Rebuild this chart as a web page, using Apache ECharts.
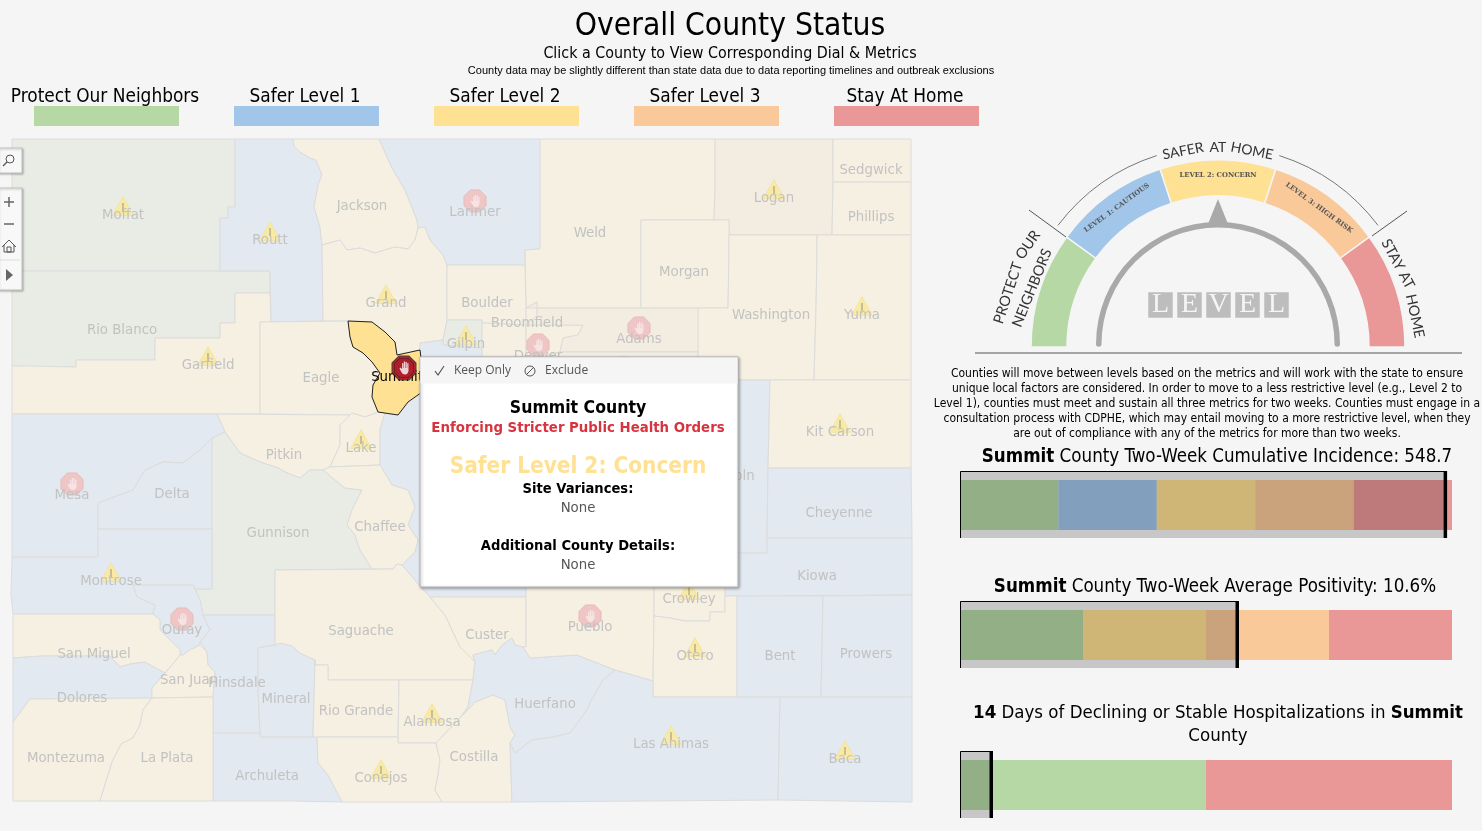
<!DOCTYPE html>
<html>
<head>
<meta charset="utf-8">
<title>Overall County Status</title>
<script src="https://cdn.jsdelivr.net/npm/echarts@6/dist/echarts.min.js"></script>
<style>
  html, body { margin: 0; padding: 0; background: #f5f5f5; }
  #chart { width: 1482px; height: 831px; }
</style>
</head>
<body>
<div id="chart"></div>
<script>
// 县界，取自参考图，单位是地图坐标
const countyShapes = {
  Moffat: [[12,139],[235,139],[235,207],[228,207],[228,218],[220,218],[220,271],[12,271]],
  'Rio Blanco': [[12,271],[270,271],[270,293],[235,293],[235,323],[220,323],[220,338],[155,338],[155,360],[76,360],[76,367],[32,367],[32,366],[12,366]],
  Garfield: [[12,366],[32,366],[32,367],[76,367],[76,360],[155,360],[155,338],[220,338],[220,323],[235,323],[235,293],[270,293],[271,322],[260,322],[260,414],[12,414]],
  Routt: [[235,139],[293,139],[294,146],[300,152],[310,158],[316,160],[322,175],[318,185],[314,207],[320,227],[322,245],[323,321],[271,322],[270,271],[220,271],[220,218],[228,218],[228,207],[235,207]],
  Jackson: [[293,139],[379,139],[392,168],[405,190],[417,220],[418,228],[415,240],[408,249],[395,247],[375,253],[360,248],[347,250],[340,240],[322,245],[320,227],[314,207],[318,185],[322,175],[316,160],[310,158],[300,152],[294,146]],
  Grand: [[322,245],[340,240],[347,250],[360,248],[375,253],[395,247],[408,249],[415,240],[418,228],[425,227],[430,240],[443,255],[447,265],[447,320],[443,340],[420,343],[420,350],[397,355],[395,342],[385,332],[372,322],[348,321],[323,321]],
  Larimer: [[379,139],[540,139],[540,249],[525,250],[525,265],[447,265],[443,255],[430,240],[425,227],[418,228],[417,220],[405,190],[392,168]],
  Weld: [[540,139],[715,139],[715,190],[714,220],[641,220],[641,308],[526,308],[525,250],[540,249]],
  Logan: [[715,139],[833,139],[833,182],[832,235],[729,235],[729,220],[714,220],[715,190]],
  Sedgwick: [[833,139],[911,139],[911,182],[833,182]],
  Phillips: [[833,182],[911,182],[911,235],[832,235]],
  Morgan: [[641,220],[729,220],[729,250],[728,308],[641,308]],
  Washington: [[729,235],[817,235],[817,250],[816,308],[814,380],[698,380],[698,308],[728,308],[729,250]],
  Yuma: [[817,235],[911,235],[911,380],[814,380],[816,308],[817,250]],
  Boulder: [[447,265],[525,265],[526,308],[526,325],[482,323],[482,320],[447,320]],
  Gilpin: [[447,320],[482,320],[482,348],[443,345],[443,340]],
  'Clear Creek': [[420,343],[443,340],[443,345],[482,348],[482,357],[420,357]],
  Jefferson: [[482,323],[526,325],[526,357],[482,357]],
  Broomfield: [[526,308],[537,302],[537,315],[530,322],[526,325]],
  Denver: [[526,325],[583,325],[578,335],[563,338],[560,352],[540,357],[526,357]],
  Adams: [[526,308],[698,308],[698,352],[560,352],[563,338],[578,335],[583,325],[526,325],[530,322],[537,315],[537,302]],
  Arapahoe: [[560,352],[698,352],[698,400],[526,400],[526,357],[540,357]],
  Elbert: [[526,400],[698,400],[698,587],[526,587]],
  Lincoln: [[698,380],[770,380],[768,468],[767,538],[767,553],[698,553]],
  'Kit Carson': [[770,380],[911,380],[911,468],[768,468]],
  Cheyenne: [[768,468],[911,468],[912,538],[767,538]],
  Kiowa: [[698,553],[767,553],[767,538],[912,538],[912,595],[725,596],[725,587],[698,587]],
  Eagle: [[260,322],[348,321],[350,337],[353,347],[363,353],[372,362],[380,373],[373,385],[372,397],[378,412],[365,417],[352,413],[350,415],[260,414]],
  Pitkin: [[217,414],[350,415],[340,425],[340,445],[330,467],[323,470],[310,470],[300,478],[285,472],[278,468],[260,462],[240,453],[225,432]],
  Lake: [[350,415],[352,413],[365,417],[378,412],[385,413],[380,430],[380,465],[330,467],[340,445],[340,425]],
  Park: [[385,413],[398,415],[408,402],[425,390],[420,357],[526,357],[526,597],[430,597],[420,586],[402,565],[415,552],[418,540],[408,525],[415,507],[408,490],[392,485],[380,465],[380,430]],
  Mesa: [[12,414],[217,414],[225,432],[212,438],[200,450],[183,463],[163,462],[145,470],[133,490],[98,503],[98,557],[12,557]],
  Delta: [[145,470],[163,462],[183,463],[200,450],[212,438],[212,529],[98,529],[98,503],[133,490]],
  Gunnison: [[225,432],[240,453],[260,462],[278,468],[285,472],[300,478],[310,470],[323,470],[335,480],[345,488],[362,490],[352,510],[347,525],[355,535],[360,550],[372,569],[275,570],[275,615],[203,615],[200,600],[195,589],[212,589],[212,438]],
  Chaffee: [[330,467],[380,465],[392,485],[408,490],[415,507],[408,525],[418,540],[415,552],[402,565],[397,564],[393,569],[372,569],[360,550],[355,535],[347,525],[352,510],[362,490],[345,488],[335,480],[323,470]],
  Montrose: [[12,557],[98,557],[98,529],[212,529],[212,589],[195,589],[193,585],[133,585],[137,597],[155,605],[153,614],[13,614],[11,595]],
  Ouray: [[133,585],[193,585],[195,589],[200,600],[203,615],[210,630],[200,642],[200,645],[190,650],[183,655],[180,655],[180,650],[170,640],[160,630],[160,620],[153,614],[155,605],[137,597]],
  'San Miguel': [[13,614],[153,614],[160,620],[160,630],[170,640],[180,650],[180,655],[172,665],[165,673],[150,665],[145,662],[130,664],[120,667],[110,656],[42,656],[13,658]],
  Dolores: [[13,658],[42,656],[110,656],[120,667],[130,664],[145,662],[150,665],[165,673],[152,688],[152,698],[30,699],[13,722]],
  'San Juan': [[165,673],[172,665],[180,655],[183,655],[190,650],[200,645],[207,652],[208,665],[215,672],[213,697],[152,698],[152,688]],
  Hinsdale: [[203,615],[275,615],[275,645],[258,648],[258,690],[260,733],[213,733],[213,697],[215,672],[208,665],[207,652],[200,642],[210,630]],
  Mineral: [[258,648],[275,645],[280,643],[292,646],[300,653],[315,660],[313,737],[260,737],[260,733],[258,690]],
  Archuleta: [[213,733],[260,733],[260,737],[317,737],[318,763],[328,775],[342,802],[292,801],[213,801]],
  Montezuma: [[13,722],[30,699],[152,698],[143,710],[140,725],[133,738],[121,744],[112,762],[108,775],[100,801],[13,801]],
  'La Plata': [[152,698],[213,697],[213,801],[100,801],[108,775],[112,762],[121,744],[133,738],[140,725],[143,710]],
  Saguache: [[275,570],[393,569],[397,564],[402,565],[420,586],[430,597],[445,615],[460,647],[475,662],[473,680],[328,680],[328,665],[315,665],[315,660],[300,653],[292,646],[280,643],[275,645]],
  'Rio Grande': [[315,660],[315,665],[328,665],[328,680],[399,680],[398,737],[313,737]],
  Alamosa: [[399,680],[473,680],[468,707],[460,718],[436,743],[398,743]],
  Conejos: [[317,737],[398,737],[398,743],[436,743],[440,760],[438,775],[435,790],[442,802],[342,802],[328,775],[318,763]],
  Costilla: [[436,743],[460,718],[475,702],[493,695],[505,700],[510,727],[515,735],[510,743],[512,802],[442,802],[435,790],[438,775],[440,760]],
  Custer: [[430,597],[526,597],[526,647],[523,647],[515,645],[512,638],[502,645],[495,655],[492,650],[473,655],[475,662],[460,647],[445,615]],
  Huerfano: [[473,655],[492,650],[495,655],[502,645],[512,638],[515,645],[523,647],[530,658],[577,655],[615,670],[603,680],[590,703],[587,710],[570,733],[553,737],[532,740],[515,753],[510,743],[515,735],[510,727],[505,700],[493,695],[475,702],[460,718],[468,707],[473,680],[475,662]],
  Pueblo: [[526,587],[654,587],[654,616],[653,681],[615,670],[577,655],[530,658],[523,647],[526,647]],
  Crowley: [[654,587],[725,587],[725,612],[710,612],[710,621],[685,621],[670,618],[654,616]],
  Otero: [[654,616],[670,618],[685,621],[710,621],[710,612],[725,612],[725,596],[737,596],[737,697],[653,697],[653,681]],
  Bent: [[737,596],[823,596],[821,697],[737,697]],
  Prowers: [[823,596],[912,595],[912,697],[821,697]],
  'Las Animas': [[615,670],[653,681],[653,697],[780,697],[779,750],[778,800],[512,802],[510,743],[515,753],[532,740],[553,737],[570,733],[587,710],[590,703],[603,680]],
  Baca: [[780,697],[912,697],[912,802],[778,800]],
  Summit: [[348,321],[372,322],[385,332],[395,342],[397,355],[420,350],[425,390],[408,402],[398,415],[378,412],[372,397],[373,385],[380,373],[372,362],[363,353],[353,347],[350,337]]
};

// 每个县的等级：0 Protect, 1 Level 1, 2 Level 2, 3 Level 3
const protectCounties = ['Moffat', 'Rio Blanco', 'Gilpin', 'Gunnison'];
const level1Counties = ['Routt', 'Larimer', 'Clear Creek', 'Park', 'Mesa', 'Delta', 'Montrose', 'Ouray', 'Dolores', 'Hinsdale', 'Mineral', 'Archuleta', 'Huerfano', 'Las Animas', 'Baca', 'Bent', 'Prowers', 'Kiowa', 'Cheyenne', 'Lincoln'];
const level3Counties = ['Logan', 'Adams', 'Arapahoe'];
const warningCounties = ['Moffat', 'Routt', 'Logan', 'Grand', 'Yuma', 'Garfield', 'Lake', 'Gilpin', 'Kit Carson', 'Montrose', 'Crowley', 'Otero', 'Alamosa', 'Conejos', 'Las Animas', 'Baca'];
const stopCounties = ['Larimer', 'Adams', 'Denver', 'Arapahoe', 'Mesa', 'Ouray', 'Pueblo'];

// 县名的位置
const labelAnchors = {
  Moffat: [123,214], Routt: [270,239], Jackson: [362,205], Larimer: [475,211], Weld: [590,232], Logan: [774,197],
  Sedgwick: [871,169], Phillips: [871,216], Morgan: [684,271], Grand: [386,302], Boulder: [487,302], Broomfield: [527,322],
  Gilpin: [466,343], Denver: [538,355], Adams: [639,338], Arapahoe: [623,378], Washington: [771,314], Yuma: [862,314],
  'Rio Blanco': [122,329], Garfield: [208,364], Eagle: [321,377], Pitkin: [284,454], Lake: [361,447], Mesa: [72,494],
  Delta: [172,493], Gunnison: [278,532], Chaffee: [380,526], 'Kit Carson': [840,431], Cheyenne: [839,512], Lincoln: [731,475],
  Kiowa: [817,575], Montrose: [111,580], Crowley: [689,598], Ouray: [182,629], 'San Miguel': [94,653], Saguache: [361,630],
  Custer: [487,634], Pueblo: [590,626], Otero: [695,655], Bent: [780,655], Prowers: [866,653], 'San Juan': [189,679],
  Hinsdale: [237,682], Mineral: [286,698], Dolores: [82,697], 'Rio Grande': [356,710], Alamosa: [432,721], Huerfano: [545,703],
  Montezuma: [66,757], 'La Plata': [167,757], Archuleta: [267,775], Conejos: [381,777], Costilla: [474,756],
  'Las Animas': [671,743], Baca: [845,758]
};
const selectedCounty = 'Summit';
const selectedAnchor = [397,376];

// 图例
const levelNames = ['Protect Our Neighbors', 'Safer Level 1', 'Safer Level 2', 'Safer Level 3', 'Stay At Home'];
const levelColors = ['#b5d8a5', '#a1c6e9', '#ffe193', '#f9c99a', '#ea9797'];

// 表盘
const dialLabels = ['', 'LEVEL 1: CAUTIOUS', 'LEVEL 2: CONCERN', 'LEVEL 3: HIGH RISK', ''];
const dialSpans = [36, 36, 36, 36, 36, 180];

// 三个指标条，marker 是条上的百分位置
const incidenceBands = [20, 20, 20, 20, 20];
const incidenceColors = ['#b5d8a5', '#a1c6e9', '#ffe193', '#f9c99a', '#ea9797'];
const incidenceMarker = 98.6;
const positivityBands = [25, 25, 25, 25];
const positivityColors = ['#b5d8a5', '#ffe193', '#f9c99a', '#ea9797'];
const positivityMarker = 56.3;
const hospitalBands = [50, 50];
const hospitalColors = ['#b5d8a5', '#ea9797'];
const hospitalMarker = 6.3;

const paragraphLines = [
  'Counties will move between levels based on the metrics and will work with the state to ensure',
  'unique local factors are considered. In order to move to a less restrictive level (e.g., Level 2 to',
  'Level 1), counties must meet and sustain all three metrics for two weeks. Counties must engage in a',
  'consultation process with CDPHE, which may entail moving to a more restrictive level, when they',
  'are out of compliance with any of the metrics for more than two weeks.'
];

const FONT = '"DejaVu Sans Condensed", "DejaVu Sans", sans-serif';
const BG = '#f5f5f5';

const warningPath = 'path://M12 1L23 21H1Z';
const stopPath = 'path://M7 0H17L24 7V17L17 24H7L0 17V7Z';
const handPath = 'path://M3 9V3H4.5V8H5V1H6.5V8H7V1.5H8.5V8H9V3H10.5V11C10.5 13 9 15 6.5 15C4 15 3.2 14 2 12L0 8.5L1 7.5Z';
const barPath = 'path://M0 0H2V8H0Z';

function levelOf(name) {
  if (protectCounties.includes(name)) return 0;
  if (level1Counties.includes(name)) return 1;
  if (level3Counties.includes(name)) return 3;
  return 2;
}
const fadedFill = ['#e8ece5', '#e2e9f0', '#f5f0e2', '#f3ece0'];

echarts.registerMap('colorado', {
  type: 'FeatureCollection',
  features: Object.keys(countyShapes).map(name => ({
    type: 'Feature',
    properties: { name },
    geometry: { type: 'Polygon', coordinates: [countyShapes[name].concat([countyShapes[name][0]])] }
  }))
});

const regions = Object.keys(countyShapes).map(name => name === selectedCounty
  ? { name, itemStyle: { areaColor: levelColors[2], borderColor: '#222', borderWidth: 1 } }
  : { name, itemStyle: { areaColor: fadedFill[levelOf(name)] } });

function iconSeries(id, list, symbol, size, color, offset, extra) {
  return Object.assign({
    id, type: 'scatter', coordinateSystem: 'geo', silent: true, symbol, symbolSize: size, symbolOffset: offset,
    itemStyle: { color }, data: list.map(name => ({ name, value: labelAnchors[name] || selectedAnchor })), z: 3
  }, extra || {});
}

// 一个指标条：堆叠色块加上灰色范围和黑色标记
function bulletSeries(idx, bands, colors, marker) {
  const bars = bands.map((v, i) => ({
    type: 'bar', stack: 'b' + idx, xAxisIndex: idx, yAxisIndex: idx, barWidth: 50, silent: true,
    itemStyle: { color: colors[i] }, data: [v]
  }));
  bars.push({
    type: 'custom', xAxisIndex: idx, yAxisIndex: idx, silent: true, z: 5, clip: false,
    data: [[marker, 0]], encode: { x: 0, y: 1 },
    renderItem: (params, api) => {
      const left = api.coord([0, 0]);
      const right = api.coord([api.value(0), 0]);
      const top = left[1] - 34;
      return {
        type: 'group',
        children: [
          { type: 'rect', shape: { x: left[0], y: top, width: right[0] - left[0], height: 67 }, style: { fill: 'rgba(0,0,0,0.19)' } },
          { type: 'polyline', shape: { points: [[left[0] + 0.5, top + 67], [left[0] + 0.5, top + 0.5], [right[0], top + 0.5]] }, style: { stroke: '#000', fill: 'none', lineWidth: 1 } },
          { type: 'rect', shape: { x: right[0] - 1.5, y: top, width: 3.5, height: 67 }, style: { fill: '#000' } }
        ]
      };
    }
  });
  return bars;
}

const metricTops = [472, 602, 752];
const hiddenAxis = (gridIndex, cfg) => Object.assign({ gridIndex, show: false }, cfg);

function txt(text, x, y, size, opts) {
  opts = opts || {};
  const family = opts.family || FONT;
  return {
    type: 'text', x, y: y + (opts.family ? 0 : 2), rotation: opts.rotate ? opts.rotate * Math.PI / 180 : 0, z: opts.z || 20, silent: true,
    style: {
      text, fontSize: size, fontFamily: family, fontWeight: opts.weight || 'normal', fill: opts.color || '#000',
      align: opts.align || 'center', verticalAlign: 'middle', rich: opts.rich
    }
  };
}
const boldRich = size => ({ b: { fontSize: size, fontFamily: FONT, fontWeight: 'bold', fill: '#000' }, n: { fontSize: size, fontFamily: FONT, fill: '#000' } });

const graphics = [
  txt('Overall County Status', 730, 24.5, 31.5),
  txt('Click a County to View Corresponding Dial & Metrics', 730, 52, 15.9),
  txt('County data may be slightly different than state data due to data reporting timelines and outbreak exclusions', 731, 70.5, 11, { family: '"Liberation Sans", Arial, sans-serif' })
];

// 图例
levelNames.forEach((name, i) => {
  const left = 34 + 200 * i;
  graphics.push(txt(name, left + 71, 95, 18.9));
  graphics.push({ type: 'rect', shape: { x: left, y: 106, width: 145, height: 20 }, style: { fill: levelColors[i] }, silent: true, z: 20 });
});

// 地图工具条
const toolBox = (y, h) => ({ type: 'rect', shape: { x: -2, y, width: 24, height: h }, z: 30, silent: true, style: { fill: '#f8f8f8', stroke: '#c4c4c4', shadowBlur: 2, shadowColor: 'rgba(0,0,0,0.25)', shadowOffsetX: 1, shadowOffsetY: 1 } });
const toolLine = (x1, y1, x2, y2, w, c, z) => ({ type: 'line', shape: { x1, y1, x2, y2 }, z: z || 31, silent: true, style: { stroke: c || '#666', lineWidth: w || 1.5 } });
graphics.push(
  toolBox(148, 25), toolBox(188, 102),
  { type: 'circle', shape: { cx: 10, cy: 159, r: 4 }, z: 31, silent: true, style: { fill: 'none', stroke: '#555', lineWidth: 1 } },
  toolLine(7, 162, 3, 166, 1.2, '#555'),
  toolLine(4, 202, 14, 202), toolLine(9, 197, 9, 207),
  toolLine(4, 224, 14, 224),
  { type: 'polyline', shape: { points: [[2, 247], [9, 240], [16, 247]] }, z: 31, silent: true, style: { fill: 'none', stroke: '#555', lineWidth: 1 } },
  { type: 'polyline', shape: { points: [[4, 245], [4, 252], [14, 252], [14, 245]] }, z: 31, silent: true, style: { fill: 'none', stroke: '#555', lineWidth: 1 } },
  { type: 'rect', shape: { x: 7, y: 247, width: 4, height: 5 }, z: 31, silent: true, style: { fill: 'none', stroke: '#555', lineWidth: 1 } },
  toolLine(0, 260, 20, 260, 1, '#ddd'),
  { type: 'polygon', shape: { points: [[6, 269], [13, 275], [6, 281]] }, z: 31, silent: true, style: { fill: '#666' } }
);

// 弹出框
graphics.push(
  { type: 'rect', shape: { x: 420, y: 357, width: 318, height: 230 }, z: 40, silent: true, style: { fill: '#fff', stroke: '#b5b5b5', lineWidth: 1, shadowBlur: 3, shadowColor: 'rgba(0,0,0,0.35)', shadowOffsetX: 1, shadowOffsetY: 1 } },
  { type: 'rect', shape: { x: 420.5, y: 357.5, width: 317, height: 26 }, z: 41, silent: true, style: { fill: BG } },
  { type: 'polyline', shape: { points: [[435, 371], [438, 375], [444, 366]] }, z: 42, silent: true, style: { fill: 'none', stroke: '#555', lineWidth: 1.2 } },
  { type: 'circle', shape: { cx: 530, cy: 371, r: 5 }, z: 42, silent: true, style: { fill: 'none', stroke: '#555', lineWidth: 1 } },
  toolLine(526.5, 374.5, 533.5, 367.5, 1, '#555', 42)
);
const popupText = (t, x, y, s, o) => txt(t, x, y, s, Object.assign({ z: 43 }, o));
graphics.push(
  popupText('Keep Only', 454, 371, 12, { family: '"Open Sans", sans-serif', align: 'left', color: '#555' }),
  popupText('Exclude', 545, 371, 12, { family: '"Open Sans", sans-serif', align: 'left', color: '#555' }),
  popupText('Summit County', 578, 406, 17.5, { weight: 'bold' }),
  popupText('Enforcing Stricter Public Health Orders', 578, 426, 14.8, { weight: 'bold', color: '#d8343f' }),
  popupText('Safer Level 2: Concern', 578, 465, 22.4, { weight: 'bold', color: '#ffe193' }),
  popupText('Site Variances:', 578, 487, 14.6, { weight: 'bold' }),
  popupText('None', 578, 506, 14.8, { color: '#555' }),
  popupText('Additional County Details:', 578, 544, 14.6, { weight: 'bold' }),
  popupText('None', 578, 563, 14.8, { color: '#555' })
);

// 表盘周围的文字和线
const CURVE = 'Lato, sans-serif';
graphics.push(
  txt('SAFER', 1183, 151, 14, { family: CURVE, rotate: 11, color: '#333' }),
  txt('AT', 1218, 147, 14, { family: CURVE, color: '#333' }),
  txt('HOME', 1252, 151, 14, { family: CURVE, rotate: -11, color: '#333' }),
  txt('PROTECT', 1008, 293, 14.5, { family: CURVE, rotate: 72, color: '#333' }),
  txt('OUR', 1028, 245, 14.5, { family: CURVE, rotate: 55, color: '#333' }),
  txt('NEIGHBORS', 1032, 288, 14.5, { family: CURVE, rotate: 68, color: '#333' }),
  txt('STAY AT', 1398, 264, 14.5, { family: CURVE, rotate: -62, color: '#333' }),
  txt('HOME', 1415, 316, 14.5, { family: CURVE, rotate: -78, color: '#333' }),
  { type: 'arc', shape: { cx: 1218, cy: 347, r: 201, startAngle: -Math.PI + 0.65, endAngle: -Math.PI / 2 - 0.31 }, silent: true, style: { stroke: '#777', fill: 'none', lineWidth: 1 } },
  { type: 'arc', shape: { cx: 1218, cy: 347, r: 201, startAngle: -Math.PI / 2 + 0.31, endAngle: -0.65 }, silent: true, style: { stroke: '#777', fill: 'none', lineWidth: 1 } },
  toolLine(1029, 210, 1066, 237, 1, '#555', 10),
  toolLine(1407, 211, 1372, 236, 1, '#555', 10),
  toolLine(975, 353, 1462, 353, 1, '#555', 10),
  { type: 'polygon', shape: { points: [[1218, 199], [1208, 224], [1228, 224]] }, z: 10, silent: true, style: { fill: '#a9a9a9' } }
);
graphics.push({
  type: 'text', x: 1218.5, y: 305, z: 20, silent: true,
  style: {
    text: '{l|L}{g|}{l|E}{g|}{l|V}{g|}{l|E}{g|}{l|L}', align: 'center', verticalAlign: 'middle',
    rich: {
      l: { width: 24.5, height: 25.5, align: 'center', backgroundColor: '#bdbdbd', fill: '#f5f5f5', fontSize: 28, fontFamily: '"Liberation Serif", serif', lineHeight: 26 },
      g: { width: 4.5 }
    }
  }
});

paragraphLines.forEach((line, i) => {
  graphics.push(txt(line, 1207, 371.5 + 15.1 * i, 12));
});

graphics.push(
  txt('{b|Summit} {n|County Two-Week Cumulative Incidence: 548.7}', 1217, 455.5, 18.6, { rich: boldRich(18.6) }),
  txt('{b|Summit} {n|County Two-Week Average Positivity: 10.6%}', 1215, 585, 18.6, { rich: boldRich(18.6) }),
  txt('{b|14} {n|Days of Declining or Stable Hospitalizations in} {b|Summit}', 1218, 711, 18.5, { rich: boldRich(18.5) }),
  txt('County', 1218, 734, 18.5)
);

const chart = echarts.init(document.getElementById('chart'));
const option = {
  animation: false,
  backgroundColor: BG,
  geo: {
    map: 'colorado',
    projection: { project: p => p, unproject: p => p },
    left: 11, top: 139, width: 901, height: 663,
    roam: false, silent: true,
    itemStyle: { borderColor: '#dcdcdc', borderWidth: 1 },
    label: { show: false },
    regions
  },
  grid: metricTops.map(top => ({ left: 960, width: 492, top, height: 66 })),
  xAxis: metricTops.map((t, i) => hiddenAxis(i, { type: 'value', min: 0, max: 100 })),
  yAxis: metricTops.map((t, i) => hiddenAxis(i, { type: 'category', data: ['v'] })),
  graphic: { elements: graphics },
  series: [
    iconSeries('warn', warningCounties, warningPath, [21, 19], '#f8eaa6', [0, -8], { itemStyle: { color: '#f8eaa6', borderColor: '#efdc8c', borderWidth: 0.5, opacity: 1 } }),
    iconSeries('warnMark', warningCounties, barPath, [1.5, 8], '#a8a084', [0, -7]),
    iconSeries('stop', stopCounties, stopPath, [22, 22], '#eec6c6', [0, -10], { itemStyle: { color: '#eec6c6', borderColor: '#e9b9b9', borderWidth: 1, opacity: 1 } }),
    iconSeries('stopHand', stopCounties, handPath, [9, 12], '#f9eaea', [0, -10]),
    {
      id: 'labels', type: 'scatter', coordinateSystem: 'geo', silent: true, symbolSize: 1, z: 4,
      itemStyle: { color: 'rgba(0,0,0,0)' },
      label: { show: true, position: 'inside', offset: [0, 1], formatter: '{b}', color: '#c2c2c2', fontSize: 14.8, fontFamily: FONT, opacity: 1 },
      data: Object.keys(labelAnchors).map(name => ({ name, value: labelAnchors[name] }))
    },
    {
      id: 'selectedLabel', type: 'scatter', coordinateSystem: 'geo', silent: true, symbolSize: 1, z: 5,
      itemStyle: { color: 'rgba(0,0,0,0)' },
      label: { show: true, position: 'inside', offset: [0, 1], formatter: '{b}', color: '#000', fontSize: 14.8, fontFamily: FONT, opacity: 1 },
      data: [{ name: selectedCounty, value: selectedAnchor }]
    },
    iconSeries('selStopOuter', [selectedCounty], stopPath, [25, 25], '#1a1a1a', [7, -8], { z: 6 }),
    iconSeries('selStopRing', [selectedCounty], stopPath, [23, 23], '#cc1f30', [7, -8], { z: 7 }),
    iconSeries('selStopLine', [selectedCounty], stopPath, [20, 20], '#1a1a1a', [7, -8], { z: 8 }),
    iconSeries('selStop', [selectedCounty], stopPath, [19, 19], '#cc1f30', [7, -8], { z: 9 }),
    iconSeries('selHand', [selectedCounty], handPath, [9, 13], '#fff', [7, -8], { z: 10 }),
    {
      type: 'pie', center: [1218, 347], radius: [151, 187], startAngle: 180, silent: true, z: 3,
      label: { position: 'inside', rotate: 'tangential', fontSize: 6.8, fontWeight: 'bold', fontFamily: '"DejaVu Serif", serif', color: '#555' },
      labelLine: { show: false },
      data: dialSpans.map((v, i) => i < 5
        ? { value: v, name: dialLabels[i] || ('seg' + i), label: { show: !!dialLabels[i] }, itemStyle: { color: levelColors[i], borderColor: BG, borderWidth: 1.5 } }
        : { value: v, name: 'rest', label: { show: false }, itemStyle: { color: 'rgba(0,0,0,0)' } })
    },
    {
      type: 'gauge', center: [1218, 344], radius: 122, startAngle: 180, endAngle: 0, silent: true,
      axisLine: { roundCap: true, lineStyle: { width: 5.5, color: [[1, '#a9a9a9']] } },
      axisTick: { show: false }, splitLine: { show: false }, axisLabel: { show: false },
      pointer: { show: false }, detail: { show: false }, title: { show: false },
      data: [{ value: 0 }]
    }
  ].concat(
    bulletSeries(0, incidenceBands, incidenceColors, incidenceMarker),
    bulletSeries(1, positivityBands, positivityColors, positivityMarker),
    bulletSeries(2, hospitalBands, hospitalColors, hospitalMarker)
  )
};
chart.setOption(option);
</script>
</body>
</html>
